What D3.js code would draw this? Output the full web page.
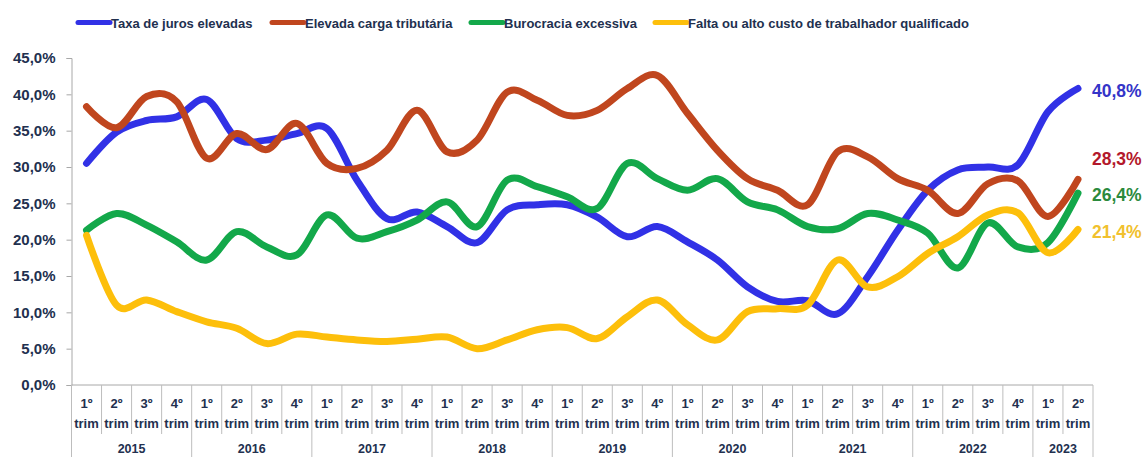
<!DOCTYPE html>
<html lang="pt-BR">
<head>
<meta charset="utf-8">
<script src="https://cdn.jsdelivr.net/npm/d3@7"></script>
<style>
  html, body { margin: 0; padding: 0; background: #fff; }
  svg { display: block; font-family: "Liberation Sans", Arial, sans-serif; }
</style>
</head>
<body>
<svg id="chart" width="1147" height="457"></svg>
<script>
// Principais problemas enfrentados pela indústria, % de citações por trimestre
const years = ["2015", "2016", "2017", "2018", "2019", "2020", "2021", "2022", "2023"];
const quartersPerYear = [4, 4, 4, 4, 4, 4, 4, 4, 2];
const quarterLabels = ["1º", "2º", "3º", "4º"];
const quarterSuffix = "trim";

const seriesNames = [
  "Taxa de juros elevadas",
  "Elevada carga tributária",
  "Burocracia excessiva",
  "Falta ou alto custo de trabalhador qualificado"
];

const jurosElevados = [30.5, 34.8, 36.4, 36.9, 39.3, 33.9, 33.7, 34.6, 35.3, 28.2, 22.9, 23.8,
  21.8, 19.6, 24.1, 24.8, 24.8, 23.1, 20.4, 21.8, 19.7, 17.2, 13.5, 11.5, 11.6, 9.8,
  14.9, 21.3, 26.8, 29.6, 30.0, 30.3, 37.6, 40.8];
const cargaTributaria = [38.3, 35.4, 39.7, 39.0, 31.2, 34.6, 32.4, 36.0, 30.5, 29.8, 32.3, 37.8,
  32.1, 33.7, 40.3, 39.2, 37.1, 37.8, 40.8, 42.6, 37.4, 32.3, 28.4, 26.8, 24.8, 32.1,
  31.4, 28.4, 26.8, 23.6, 27.7, 28.1, 23.2, 28.3];
const burocracia = [21.3, 23.6, 22.0, 19.7, 17.2, 21.1, 19.0, 17.9, 23.4, 20.2, 21.1, 22.7,
  25.2, 21.8, 28.2, 27.3, 25.9, 24.3, 30.5, 28.4, 26.8, 28.4, 25.2, 24.1, 21.8, 21.5,
  23.6, 22.7, 20.9, 16.1, 22.3, 19.0, 19.6, 26.4];
const trabalhadorQualificado = [20.6, 11.0, 11.7, 10.1, 8.7, 7.8, 5.7, 7.0, 6.6, 6.2, 6.0, 6.3,
  6.6, 5.0, 6.2, 7.6, 7.9, 6.4, 9.4, 11.7, 8.3, 6.2, 10.1, 10.5, 11.0, 17.2,
  13.5, 14.9, 18.1, 20.4, 23.4, 23.7, 18.2, 21.4];

const yTicks = [0, 5, 10, 15, 20, 25, 30, 35, 40, 45];

// ---- presentation ----
const lineColors = ["#3131e6", "#c0461e", "#13a84a", "#fdbf0b"];
const labelColors = ["#3434c8", "#b3182b", "#2b8a3c", "#f1c12e"];
const textColor = "#22304f";
const gridGray = "#bdbdbd";

const allSeries = [jurosElevados, cargaTributaria, burocracia, trabalhadorQualificado];

// categories: one per quarter
const categories = [];
years.forEach((y, yi) => {
  for (let q = 0; q < quartersPerYear[yi]; q++) categories.push({ year: y, q: quarterLabels[q], yi });
});

const svg = d3.select("#chart");
const plot = { left: 71.5, right: 1093, top: 58, bottom: 385 };

const x = d3.scaleBand().domain(d3.range(categories.length)).range([plot.left, plot.right]).padding(0);
const y = d3.scaleLinear().domain([0, 45]).range([plot.bottom, plot.top]);

const ptBR = d3.formatLocale({ decimal: ",", thousands: ".", grouping: [3], currency: ["R$", ""] });
const pct1 = ptBR.format(".1f");
const fmtPct = v => pct1(v) + "%";

// ---- y axis ----
const yAxis = d3.axisLeft(y).tickValues(yTicks).tickSize(5).tickFormat(fmtPct);
const gy = svg.append("g").attr("transform", `translate(${plot.left},0)`).call(yAxis);
gy.select(".domain").attr("stroke", "#a8a8a8");
gy.selectAll(".tick line").attr("stroke", "#a8a8a8");
gy.selectAll(".tick text")
  .attr("x", -16)
  .attr("fill", textColor)
  .style("font-size", "15px")
  .style("font-weight", "bold")
  .style("font-family", "'Liberation Sans', Arial, sans-serif");

// ---- x axis table ----
const bw = x.bandwidth();
const gx = svg.append("g");
gx.append("line")
  .attr("x1", plot.left).attr("x2", plot.right)
  .attr("y1", plot.bottom).attr("y2", plot.bottom)
  .attr("stroke", "#a8a8a8");

// boundaries between quarters / years
const yearStarts = [];
let acc = 0;
quartersPerYear.forEach(n => { yearStarts.push(acc); acc += n; });
const boundaries = d3.range(categories.length + 1);
gx.selectAll("line.sep").data(boundaries).join("line")
  .attr("class", "sep")
  .attr("x1", i => plot.left + i * bw).attr("x2", i => plot.left + i * bw)
  .attr("y1", plot.bottom)
  .attr("y2", i => (yearStarts.includes(i) || i === categories.length) ? 457 : 434)
  .attr("stroke", gridGray);

gx.selectAll("text.q").data(categories).join("text")
  .attr("class", "q")
  .attr("x", (d, i) => x(i) + bw / 2)
  .attr("y", 408)
  .attr("text-anchor", "middle")
  .attr("fill", textColor)
  .style("font-size", "13px").style("font-weight", "bold")
  .text(d => d.q);
gx.selectAll("text.t").data(categories).join("text")
  .attr("class", "t")
  .attr("x", (d, i) => x(i) + bw / 2)
  .attr("y", 428)
  .attr("text-anchor", "middle")
  .attr("fill", textColor)
  .style("font-size", "13px").style("font-weight", "bold")
  .text(quarterSuffix);
gx.selectAll("text.yr").data(years).join("text")
  .attr("class", "yr")
  .attr("x", (d, i) => plot.left + (yearStarts[i] + quartersPerYear[i] / 2) * bw)
  .attr("y", 453)
  .attr("text-anchor", "middle")
  .attr("fill", textColor)
  .style("font-size", "12.5px").style("font-weight", "bold")
  .text(d => d);

// ---- lines ----
const line = d3.line()
  .x((d, i) => x(i) + bw / 2)
  .y(d => y(d))
  .curve(d3.curveCardinal.tension(0));

svg.append("g").selectAll("path.series").data(allSeries).join("path")
  .attr("class", "series")
  .attr("d", d => line(d))
  .attr("fill", "none")
  .attr("stroke", (d, i) => lineColors[i])
  .attr("stroke-width", 7)
  .attr("stroke-linecap", "round")
  .attr("stroke-linejoin", "round");

// ---- end-value labels, nudged apart so they don't collide ----
const lastIdx = categories.length - 1;
const ends = allSeries.map((s, i) => ({ i, v: s[lastIdx], cy: y(s[lastIdx]) }));
const sorted = ends.slice().sort((a, b) => b.cy - a.cy); // bottom first
const minGap = 36;
for (let k = 1; k < sorted.length; k++) {
  sorted[k].cy = Math.min(sorted[k].cy, sorted[k - 1].cy - minGap);
}
svg.append("g").selectAll("text.end").data(ends).join("text")
  .attr("class", "end")
  .attr("x", plot.right - 1)
  .attr("y", d => d.cy + 2)
  .attr("dy", "0.35em")
  .attr("fill", d => labelColors[d.i])
  .style("font-size", "17.5px").style("font-weight", "bold")
  .text(d => fmtPct(d.v));

// ---- legend ----
const legendX = [78, 272, 471, 655];
const legend = svg.append("g").selectAll("g").data(seriesNames).join("g")
  .attr("transform", (d, i) => `translate(${legendX[i]},0)`);
legend.append("line")
  .attr("x1", 0).attr("x2", 32).attr("y1", 22.5).attr("y2", 22.5)
  .attr("stroke", (d, i) => lineColors[i])
  .attr("stroke-width", 5)
  .attr("stroke-linecap", "round");
legend.append("text")
  .attr("x", 33).attr("y", 28)
  .attr("fill", textColor)
  .style("font-size", "13px").style("font-weight", "bold")
  .text(d => d);
</script>
</body>
</html>
